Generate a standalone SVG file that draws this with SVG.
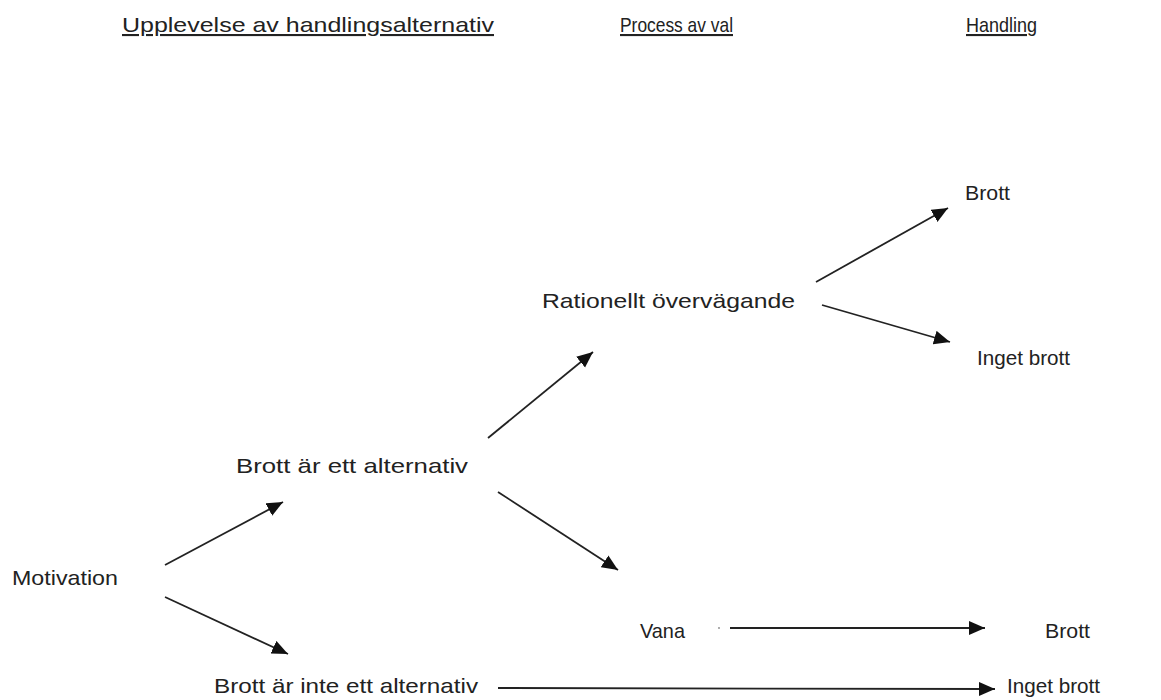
<svg xmlns="http://www.w3.org/2000/svg" width="1161" height="700" viewBox="0 0 1161 700">
<defs>
<style>
text{font-family:"Liberation Sans",Arial,sans-serif;font-size:21px;fill:#222;}
.h{text-decoration:underline;}
.c{stroke:#222;stroke-width:1.8;fill:none;marker-end:url(#ah);}
</style>
<marker id="ah" markerUnits="userSpaceOnUse" markerWidth="18" markerHeight="15" refX="16" refY="7" orient="auto">
<path d="M0,0 L16,7 L0,14 z" fill="#111"/>
</marker>
</defs>
<rect width="1161" height="700" fill="#fff"/>
<g id="headers">
<text id="h1" class="h" x="122" y="32" textLength="372" lengthAdjust="spacingAndGlyphs">Upplevelse av handlingsalternativ</text>
<text id="h2" class="h" x="620" y="32" textLength="113" lengthAdjust="spacingAndGlyphs">Process av val</text>
<text id="h3" class="h" x="966" y="32" textLength="71" lengthAdjust="spacingAndGlyphs">Handling</text>
</g>
<g id="motivation"><text x="12" y="585" textLength="106" lengthAdjust="spacingAndGlyphs">Motivation</text></g>
<g id="alt-ja"><text x="236" y="473" textLength="232" lengthAdjust="spacingAndGlyphs">Brott är ett alternativ</text></g>
<g id="alt-nej"><text x="214" y="693" textLength="264" lengthAdjust="spacingAndGlyphs">Brott är inte ett alternativ</text></g>
<g id="rationellt"><text x="542" y="308" textLength="253" lengthAdjust="spacingAndGlyphs">Rationellt övervägande</text></g>
<g id="vana"><text x="640" y="638" textLength="45" lengthAdjust="spacingAndGlyphs">Vana</text></g>
<g id="brott1"><text x="965" y="200" textLength="45" lengthAdjust="spacingAndGlyphs">Brott</text></g>
<g id="inget1"><text x="977" y="365" textLength="93" lengthAdjust="spacingAndGlyphs">Inget brott</text></g>
<g id="brott2"><text x="1045" y="638" textLength="45" lengthAdjust="spacingAndGlyphs">Brott</text></g>
<g id="inget2"><text x="1007" y="693" textLength="93" lengthAdjust="spacingAndGlyphs">Inget brott</text></g>
<g id="connectors">
<line class="c" x1="165" y1="565" x2="283" y2="502"/>
<line class="c" x1="165" y1="597" x2="288" y2="654"/>
<line class="c" x1="488" y1="438" x2="593" y2="352"/>
<line class="c" x1="498" y1="492" x2="618" y2="570"/>
<line class="c" x1="816" y1="282" x2="948" y2="208"/>
<line class="c" x1="822" y1="305" x2="950" y2="342"/>
<line class="c" x1="730" y1="628" x2="985" y2="628"/>
<circle cx="719" cy="628" r="0.9" fill="#888"/>
<line class="c" x1="498" y1="688" x2="995" y2="689"/>
</g>
</svg>
